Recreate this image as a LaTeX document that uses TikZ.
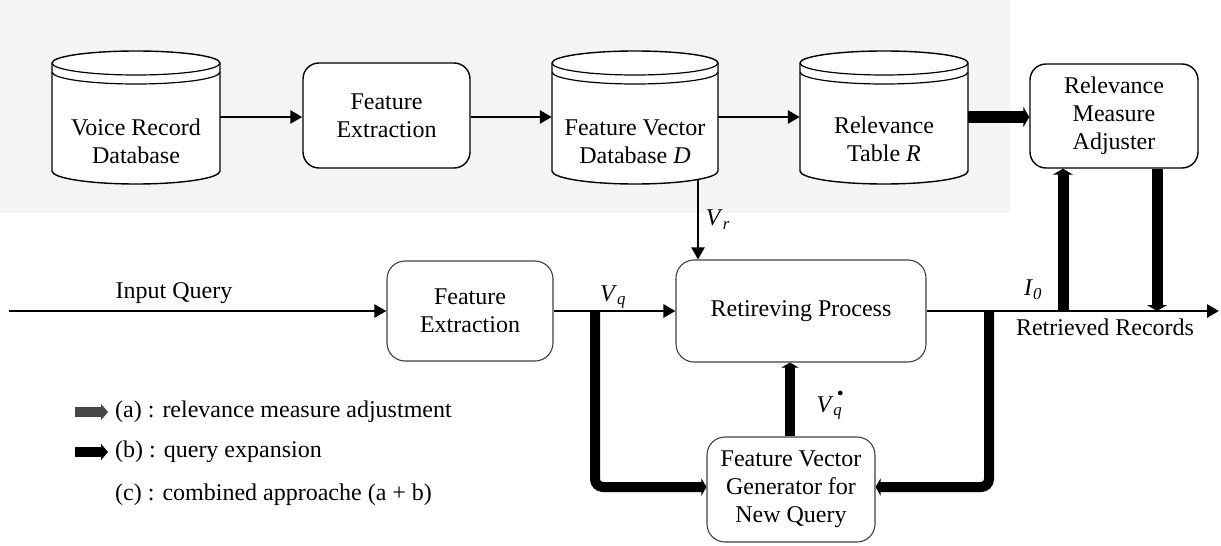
\documentclass[tikz,border=0pt]{standalone}
\usepackage{fontspec}
\setmainfont{Liberation Serif}
\usetikzlibrary{arrows.meta,calc}
\newcommand\dbcyl[5]{% name, left x, right x, text y, text
  \pgfmathsetmacro\cx{(#2+#3)/2}%
  \pgfmathsetmacro\rx{(#3-#2)/2}%
  \draw[cyl] (#2,63) -- (#2,171) arc[start angle=180,end angle=360,x radius=\rx pt,y radius=13pt]
     -- (#3,63) arc[start angle=0,end angle=180,x radius=\rx pt,y radius=12pt] -- cycle;
  \draw[cylin] (#2,63) arc[start angle=180,end angle=360,x radius=\rx pt,y radius=12pt];
  \draw[cylin] (#2,72) arc[start angle=180,end angle=360,x radius=\rx pt,y radius=12pt];
  \node[minimum width=#3-#2, minimum height=128, inner sep=0pt] (#1) at (\cx,117) {};
  \node[align=center] (#1t) at (\cx,#4) {#5};
}
\begin{document}
\begin{tikzpicture}[x=1pt,y=-1pt,
  font=\fontsize{24}{28}\selectfont,
  cyl/.style={draw, line width=1.4pt, fill=white},
  cylin/.style={draw, line width=1.2pt},
  box/.style={draw, line width=1.4pt, rounded corners=16pt, fill=white, align=center, inner sep=0pt},
  softbox/.style={draw=black!75, line width=1.1pt, rounded corners=18pt, fill=white, align=center, inner sep=0pt},
  thinarr/.style={line width=2.8pt, -{Triangle[length=12pt,width=13pt]}},
  inarr/.style={line width=2.2pt, -{Triangle[length=12pt,width=13pt]}},
  fatarr/.style={line width=11pt, -{Triangle[length=6pt,width=20pt]}},
  fatpath/.style={line width=10pt, rounded corners=8pt, -{Triangle[length=5pt,width=17pt]}},
  legarr/.style={line width=10pt, -{Triangle[length=7pt,width=16pt]}},
  lbl/.style={inner sep=0pt}]
\useasboundingbox (0,0) rectangle (1221,546);
\fill[gray!9] (0,0) rectangle (1010,213);

% top row
\dbcyl{vdb}{52}{220}{141}{Voice Record\\Database}
\node[box, minimum width=167, minimum height=105] (fe) at (386.5,115.5) {Feature\\Extraction};
\dbcyl{fvdb}{552}{718}{142}{Feature Vector\\Database \textit{D}}
\dbcyl{rt}{800}{968}{139}{Relevance\\Table \textit{R}}
\node[box, minimum width=168, minimum height=104] (rma) at (1114,116) {Relevance\\Measure\\Adjuster};

\draw[thinarr] (vdb.east) -- (vdb.east -| fe.west);
\draw[thinarr] (fe.east |- vdb.east) -- (fvdb.west);
\draw[thinarr] (fvdb.east) -- (rt.west);
\draw[fatarr, line width=12pt] (rt.east) -- (rt.east -| rma.west);

% middle row
\node[softbox, minimum width=166, minimum height=100] (fe2) at (470,311) {Feature\\Extraction};
\node[softbox, minimum width=250, minimum height=102] (rp) at (801,311) {Retireving Process};
\node[softbox, minimum width=168, minimum height=105] (fvg) at (791,489.5) {Feature Vector\\Generator for\\New Query};

\coordinate (inq) at (9,311);
\coordinate (out) at (1219,311);
\coordinate (vrtop) at (698,180);
\draw[inarr] (inq) -- (inq -| fe2.west);
\draw[thinarr] (fe2.east) -- (rp.west);
\draw[thinarr] (rp.east) -- (out);
\draw[thinarr, line width=2.2pt] (vrtop) -- (vrtop |- rp.north);

% thick feedback paths
\coordinate (jl) at (595,311);
\coordinate (jlb) at (595,487);
\coordinate (jr) at (989,311);
\coordinate (jrb) at (989,487);
\draw[fatpath] (jl) -- (jlb) -- (jlb -| fvg.west);
\draw[fatpath] (jr) -- (jrb) -- (jrb -| fvg.east);
\draw[fatpath] (fvg.north -| 790,0) -- (790,0 |- rp.south);

\coordinate (ju) at (1063,311);
\coordinate (jd) at (1157,311);
\draw[fatarr] (ju) -- (ju |- rma.south);
\draw[fatarr] (jd |- rma.south) -- (jd);

% labels
\node[lbl] (linq) at (174,293) {Input Query};
\node[lbl] (lvq) at (613,297) {\textit{V}\textsubscript{\textit{q}}};
\node[lbl] (lvr) at (718,220) {\textit{V}\textsubscript{\textit{r}}};
\node[lbl] (lio) at (1033,290) {\textit{I}\textsubscript{\textit{0}}};
\node[lbl] (lrr) at (1105,327) {Retrieved Records};
\node[lbl] (lvs) at (830,405) {\textit{V}\rlap{\textsubscript{\textit{q}}}\raisebox{1.45ex}{\kern4pt\fontsize{12}{12}\selectfont$\bullet$}};

% legend
\coordinate (la1) at (75,412);
\coordinate (la2) at (108,412);
\coordinate (lb1) at (75,452);
\coordinate (lb2) at (108,452);
\draw[legarr, black!72] (la1) -- (la2);
\draw[legarr] (lb1) -- (lb2);
\node[lbl, anchor=west] (lega) at (115,412) {(a) : relevance measure adjustment};
\node[lbl, anchor=west] (legb) at (115,452) {(b) : query expansion};
\node[lbl, anchor=west] (legc) at (115,495) {(c) : combined approache (a + b)};
\end{tikzpicture}
\end{document}
